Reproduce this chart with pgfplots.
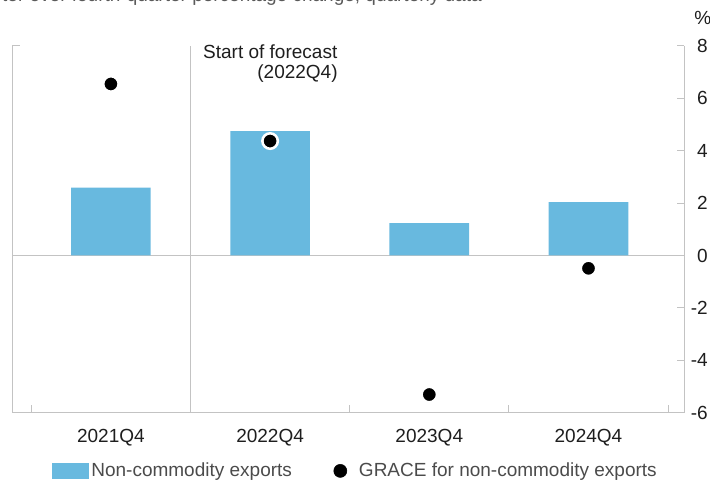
\documentclass[border=0pt]{standalone}
\usepackage{pgfplots}
\pgfplotsset{compat=1.18}
\usepackage{fontspec}
\setmainfont{Liberation Sans}
\definecolor{barblue}{RGB}{104,185,223}
\definecolor{axgray}{RGB}{195,195,195}
\definecolor{txt}{RGB}{30,30,30}
\definecolor{legtxt}{RGB}{75,75,75}
\definecolor{subtxt}{RGB}{90,90,90}
\begin{document}
\begin{tikzpicture}[font=\fontsize{14.25}{17}\selectfont]
\useasboundingbox (-9.75pt,-53.55pt) rectangle (522.75pt,309.45pt);
\begin{axis}[
 scale only axis, width=503.25pt, height=274.95pt,
 at={(0,0)}, anchor=south west,
 xmin=-0.615, xmax=3.6, ymin=-6, ymax=8,
 axis x line*=bottom, axis y line*=right,
 axis line style={axgray, line width=0.75pt},
 xtick={0,1,2,3}, xticklabels={2021Q4,2022Q4,2023Q4,2024Q4},
 minor xtick={-0.5,0.5,1.5,2.5,3.5},
 major x tick style={draw=none},
 minor x tick style={axgray, line width=0.75pt},
 minor tick length=6pt,
 ytick={-6,-4,...,8},
 y tick style={axgray, line width=0.75pt},
 major tick length=5.25pt,
 tick align=inside,
 tick label style={text=txt, font=\fontsize{14.25}{17}\selectfont},
 xticklabel style={anchor=base, yshift=-22.8pt},
 yticklabel style={anchor=east, xshift=18pt, inner sep=0pt},
 /pgf/number format/assume math mode=true,
 extra y ticks={0}, extra y tick labels={},
 extra y tick style={grid=major, major grid style={axgray, line width=0.75pt}, tick style={draw=none}},
 clip=false,
 legend columns=2,
 legend cell align=left,
 legend style={at={(0.5105,-0.159)}, anchor=center, draw=none, fill=none,
   font=\fontsize{14.25}{17}\selectfont, text=legtxt,
   /tikz/every even column/.append style={column sep=28.25pt}},
]
\addplot[ybar, bar width=0.5, bar shift=0pt, fill=barblue, draw=none,
  legend image code/.code={\fill[barblue] (0pt,-6pt) rectangle (27.75pt,6pt);}]
  coordinates {(0,2.59) (1,4.75) (2,1.24) (3,2.04)};
\addlegendentry{Non-commodity exports}
\addplot[only marks, mark=*, mark size=5.8pt,
  mark options={fill=black, draw=white, line width=1.9pt},
  legend image code/.code={\fill[black] (6pt,0pt) circle (4.9pt); \path[draw=none,fill=none] (0pt,-1pt) rectangle (18pt,1pt);}]
  coordinates {(0,6.55) (1,4.37) (2,-5.31) (3,-0.49)};
\addlegendentry{GRACE for non-commodity exports}
\draw[axgray, line width=0.75pt] (rel axis cs:0,0) -- (rel axis cs:0,1) -- ++(5.25pt,0pt);
\draw[axgray, line width=0.75pt] (axis cs:0.5,-6) -- (axis cs:0.5,8);
\node[anchor=base west, inner sep=0pt, text=txt] at (axis cs:0.578,7.54) {Start of forecast};
\node[anchor=base east, inner sep=0pt, text=txt] at (axis cs:1.426,6.74) {(2022Q4)};
\node[text=txt, inner sep=0pt] at (rel axis cs:1.028,1.076) {\%};
\node[anchor=base east, inner sep=0pt, text=subtxt] at (axis cs:2.331,9.71) {Fourth-quarter over fourth-quarter percentage change, quarterly data};
\end{axis}
\end{tikzpicture}
\end{document}
